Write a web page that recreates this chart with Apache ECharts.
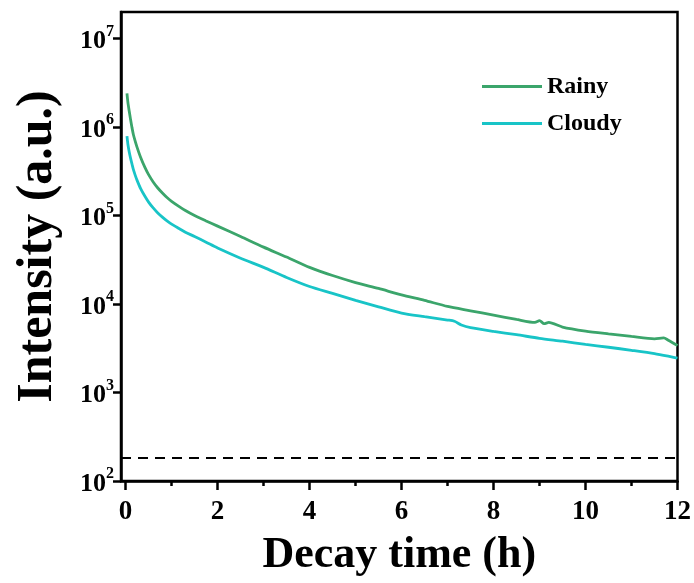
<!DOCTYPE html>
<html>
<head>
<meta charset="utf-8">
<script src="https://cdn.jsdelivr.net/npm/echarts@6/dist/echarts.min.js"></script>
<style>
html,body{margin:0;padding:0;background:#fff;}
#chart{width:694px;height:583px;}
</style>
</head>
<body>
<div id="chart"></div>
<script>
// ---- data ----
const seriesNames = ['Rainy', 'Cloudy'];
const rainyTime = [0.03,0.05,0.08,0.11,0.14,0.17,0.21,0.25,0.33,0.42,0.5,0.6,0.7,0.8,0.9,1.0,1.15,1.3,1.5,1.75,2.0,2.5,3.0,3.5,4.0,4.5,5.0,5.5,6.0,6.5,7.0,7.5,8.0,8.5,8.9,9.0,9.1,9.2,9.5,10.0,10.5,11.0,11.5,11.7,11.8,12.0];
const rainyValues = [2.4e6,1.9e6,1.5e6,1.2e6,9.8e5,8.2e5,6.9e5,5.9e5,4.5e5,3.5e5,2.9e5,2.4e5,2.05e5,1.8e5,1.6e5,1.45e5,1.28e5,1.14e5,1.0e5,8.7e4,7.6e4,5.8e4,4.4e4,3.4e4,2.6e4,2.1e4,1.75e4,1.5e4,1.27e4,1.1e4,9.4e3,8.4e3,7.5e3,6.7e3,6.2e3,6.5e3,6.0e3,6.2e3,5.5e3,4.95e3,4.6e3,4.3e3,4.05e3,4.15e3,3.9e3,3.4e3];
const cloudyTime = [0.03,0.05,0.08,0.11,0.14,0.17,0.21,0.25,0.33,0.42,0.5,0.6,0.7,0.8,0.9,1.0,1.15,1.3,1.5,1.75,2.0,2.5,3.0,3.5,4.0,4.5,5.0,5.5,6.0,6.5,7.0,7.15,7.3,7.5,8.0,8.5,9.0,9.5,10.0,10.5,11.0,11.5,12.0];
const cloudyValues = [7.9e5,6.4e5,5.2e5,4.4e5,3.8e5,3.3e5,2.85e5,2.5e5,2.0e5,1.65e5,1.42e5,1.22e5,1.07e5,9.6e4,8.7e4,8.0e4,7.2e4,6.5e4,5.8e4,5.0e4,4.3e4,3.3e4,2.6e4,2.0e4,1.58e4,1.32e4,1.1e4,9.3e3,7.9e3,7.2e3,6.6e3,6.4e3,5.8e3,5.4e3,4.9e3,4.5e3,4.1e3,3.8e3,3.5e3,3.25e3,3.0e3,2.75e3,2.45e3];
const baselineValue = 185;
const xMajorTicks = [0,2,4,6,8,10,12];
const xMinorTicks = [1,3,5,7,9,11];
const yTicks = [1e2,1e3,1e4,1e5,1e6,1e7];
const xTitle = 'Decay time (h)';
const yTitle = 'Intensity (a.u.)';

const FONT = '"Liberation Serif","Times New Roman",serif';
const pair = (xs, ys) => xs.map((x, i) => [x, ys[i]]);

const chart = echarts.init(document.getElementById('chart'), null, {renderer: 'canvas'});
chart.setOption({
  animation: false,
  backgroundColor: '#fff',
  grid: {left: 121, right: 16, top: 12, bottom: 100, show: true, borderColor: '#000', borderWidth: 2.5, backgroundColor: 'transparent'},
  legend: {
    orient: 'vertical', left: 482, top: 73, padding: 0,
    icon: 'rect', itemWidth: 60, itemHeight: 3, itemGap: 10,
    data: seriesNames,
    textStyle: {fontFamily: FONT, fontWeight: 'bold', fontSize: 24, color: '#000', lineHeight: 27}
  },
  xAxis: [{
    type: 'value', min: -0.1, max: 12,
    axisLine: {show: true, onZero: false, lineStyle: {color: '#000', width: 2.5}},
    axisTick: {show: true, customValues: xMajorTicks, length: 9, lineStyle: {color: '#000', width: 2.5}},
    axisLabel: {customValues: xMajorTicks, margin: 18, fontFamily: FONT, fontWeight: 'bold', fontSize: 27, color: '#000'},
    splitLine: {show: false},
    name: xTitle, nameLocation: 'middle', nameGap: 53,
    nameTextStyle: {fontFamily: FONT, fontWeight: 'bold', fontSize: 44, color: '#000'}
  }, {
    type: 'value', min: -0.1, max: 12, position: 'bottom',
    axisLine: {show: false, onZero: false},
    axisTick: {show: true, customValues: xMinorTicks, length: 5, lineStyle: {color: '#000', width: 2.5}},
    axisLabel: {show: false},
    splitLine: {show: false}
  }],
  yAxis: {
    type: 'log', logBase: 10, min: 100, max: 2e7,
    axisLine: {show: true, onZero: false, lineStyle: {color: '#000', width: 2.5}},
    axisTick: {show: true, customValues: yTicks, length: 8, lineStyle: {color: '#000', width: 2.5}},
    axisLabel: {
      customValues: yTicks, margin: 7,
      formatter: v => '{b|10}{s|' + Math.round(Math.log10(v)) + '}',
      rich: {
        b: {fontFamily: FONT, fontWeight: 'bold', fontSize: 26, color: '#000', lineHeight: 30, padding: [6,0,0,0]},
        s: {fontFamily: FONT, fontWeight: 'bold', fontSize: 16, color: '#000', verticalAlign: 'top', lineHeight: 16}
      }
    },
    splitLine: {show: false},
    minorTick: {show: false},
    name: yTitle, nameLocation: 'middle', nameGap: 58, nameRotate: 90,
    nameTextStyle: {fontFamily: FONT, fontWeight: 'bold', fontSize: 50, color: '#000'}
  },
  series: [{
    name: seriesNames[0], type: 'line', xAxisIndex: 0, smooth: 0.25, symbol: 'none',
    lineStyle: {color: '#3BA56B', width: 2.8}, itemStyle: {color: '#3BA56B'},
    data: pair(rainyTime, rainyValues),
    markLine: {
      silent: true, symbol: 'none', label: {show: false},
      lineStyle: {color: '#000', width: 1.8, type: [10, 7]},
      data: [{yAxis: baselineValue}]
    }
  }, {
    name: seriesNames[1], type: 'line', xAxisIndex: 0, smooth: 0.25, symbol: 'none',
    lineStyle: {color: '#18C4C7', width: 2.8}, itemStyle: {color: '#18C4C7'},
    data: pair(cloudyTime, cloudyValues)
  }]
});
</script>
</body>
</html>
